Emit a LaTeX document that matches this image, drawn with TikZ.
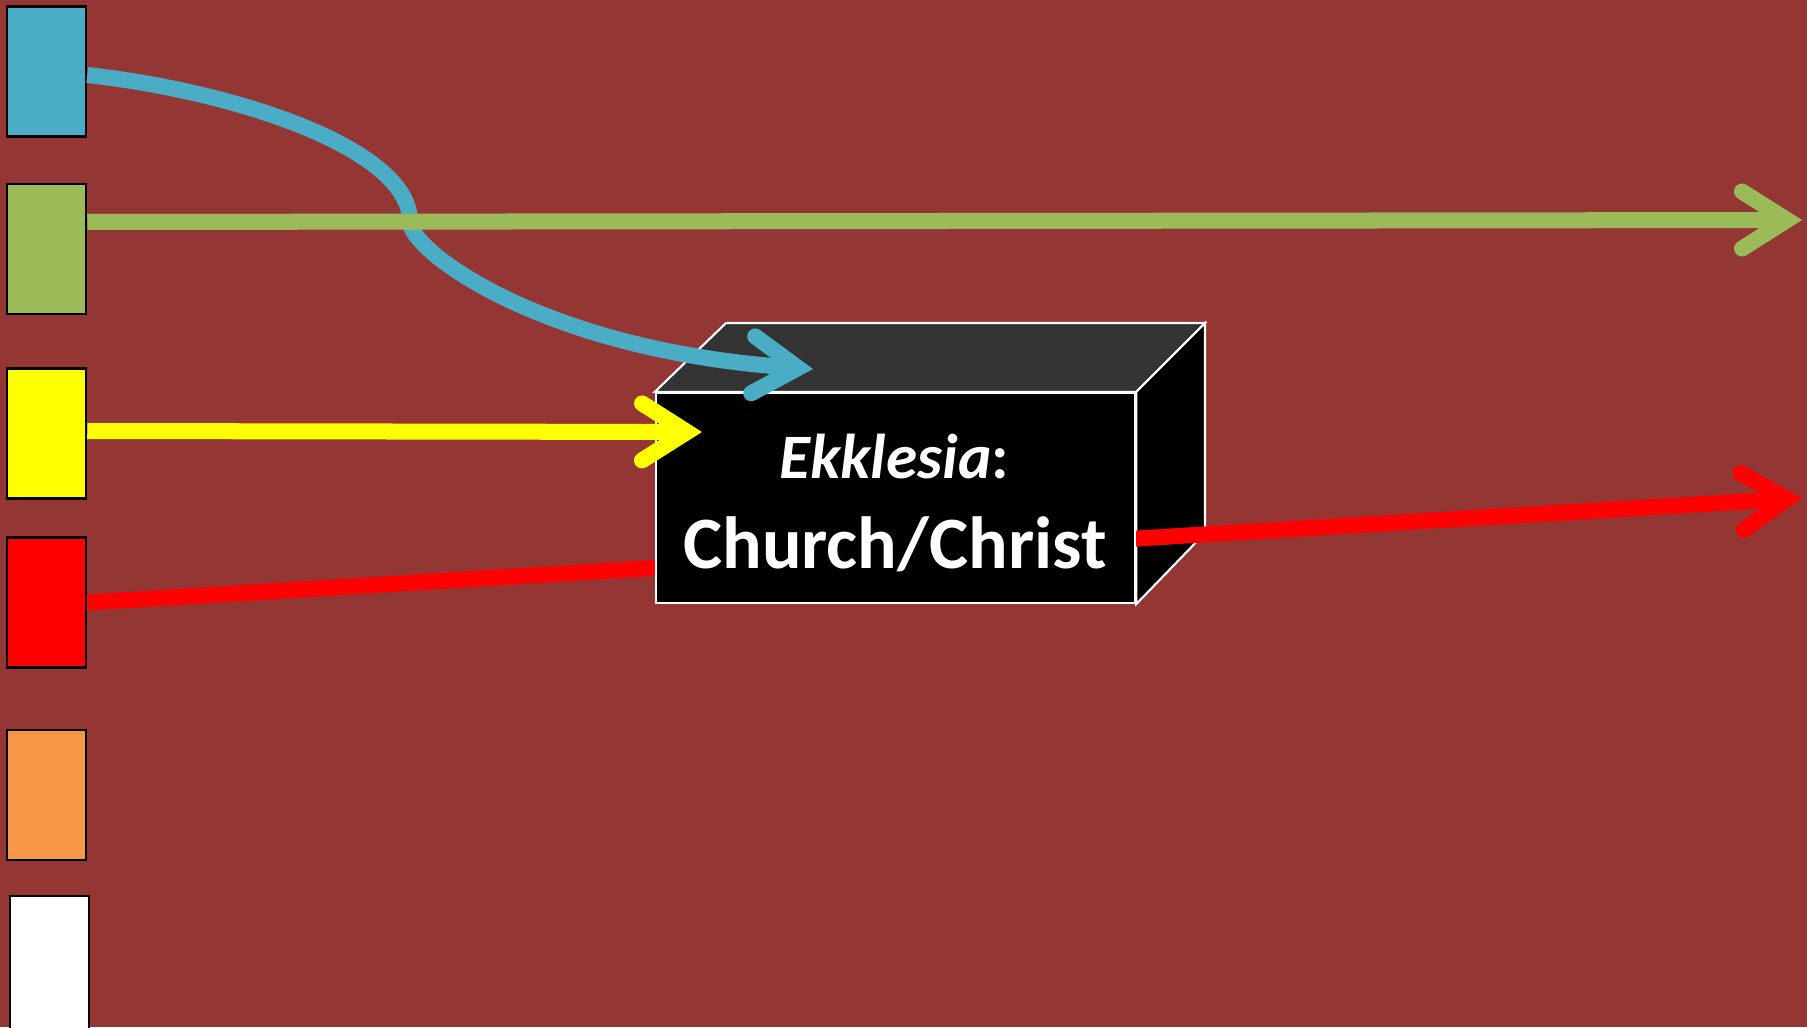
\documentclass[tikz,border=0pt]{standalone}
\usepackage{fontspec}
\setmainfont{Carlito}
\usetikzlibrary{arrows.meta}
\definecolor{slide}{HTML}{943634}
\definecolor{tabcyan}{HTML}{4BACC6}
\definecolor{tabgreen}{HTML}{9BBB59}
\definecolor{taborange}{HTML}{F79646}
\definecolor{tabyellow}{HTML}{FFFF00}
\definecolor{topgray}{HTML}{333333}
\pgfdeclarelayer{bg}
\pgfdeclarelayer{behind}
\pgfsetlayers{bg,behind,main}
\tikzset{
    tab/.style={draw=black, line width=0.7pt, minimum width=0.79cm, minimum height=1.3cm, inner sep=0pt},
    flow/.style={line width=0.16cm, -{Straight Barb[length=0.45cm, width=0.57cm, line cap=round, line join=miter]}},
    face/.style={draw=white, line width=0.6pt, line join=miter}
}

\begin{document}
\begin{tikzpicture}[x=0.01cm, y=-0.01cm]
    \begin{pgfonlayer}{bg}
        \fill[slide] (0,0) rectangle (1807,1027);
    \end{pgfonlayer}
    \useasboundingbox (0,0) rectangle (1807,1027);
    % colour tabs down the left side
    \node[tab, fill=tabcyan] (cyanbox) at (46.5,71.5) {};
    \node[tab, fill=tabgreen] (greenbox) at (46.5,249) {};
    \node[tab, fill=tabyellow] (yellowbox) at (46.5,433.5) {};
    \node[tab, fill=red] (redbox) at (46.5,602.5) {};
    \node[tab, fill=taborange] (orangebox) at (46.5,795) {};
    \node[tab, fill=white, minimum height=1.5cm] (whitebox) at (49.5,971) {};
    % the box
    \node[face, fill=black, minimum width=4.79cm, minimum height=2.1cm] (front) at (895.5,498) {};
    \coordinate (backl) at (726,323);
    \coordinate (backr) at (1205,323);
    \coordinate (backb) at (1205,533);
    \coordinate (bend) at (410,222);
    \coordinate (blueend) at (813,369);
    \coordinate (greenend) at (1802,220);
    \coordinate (yellowend) at (702,432);
    \coordinate (redend) at (1802,498);
    \begin{pgfonlayer}{behind}
        \draw[face, fill=topgray] (front.north west) -- (backl) -- (backr) -- (front.north east) -- cycle;
        \draw[face, fill=black] (front.north east) -- (backr) -- (backb) -- (front.south east) -- cycle;
        \draw[flow, red] (redbox.east) -- (redend);
    \end{pgfonlayer}
    \node[font=\fontsize{18}{21}\selectfont\bfseries, text=white, anchor=base] (ekk) at (894,478) {\textit{Ekklesia}:};
    \node[font=\fontsize{21}{25}\selectfont\bfseries, text=white, anchor=base] (church) at (895,568) {Church/Christ};
    % arrows
    \draw[flow, tabcyan] ([yshift=-0.035cm]cyanbox.east) .. controls (240,92) and (411,150) .. (bend)
        .. controls (410,250) and (540,350) .. (blueend);
    \draw[flow, tabgreen] ([yshift=0.27cm]greenbox.east) -- (greenend);
    \draw[flow, tabyellow] ([yshift=0.025cm]yellowbox.east) -- (yellowend);
\end{tikzpicture}
\end{document}
